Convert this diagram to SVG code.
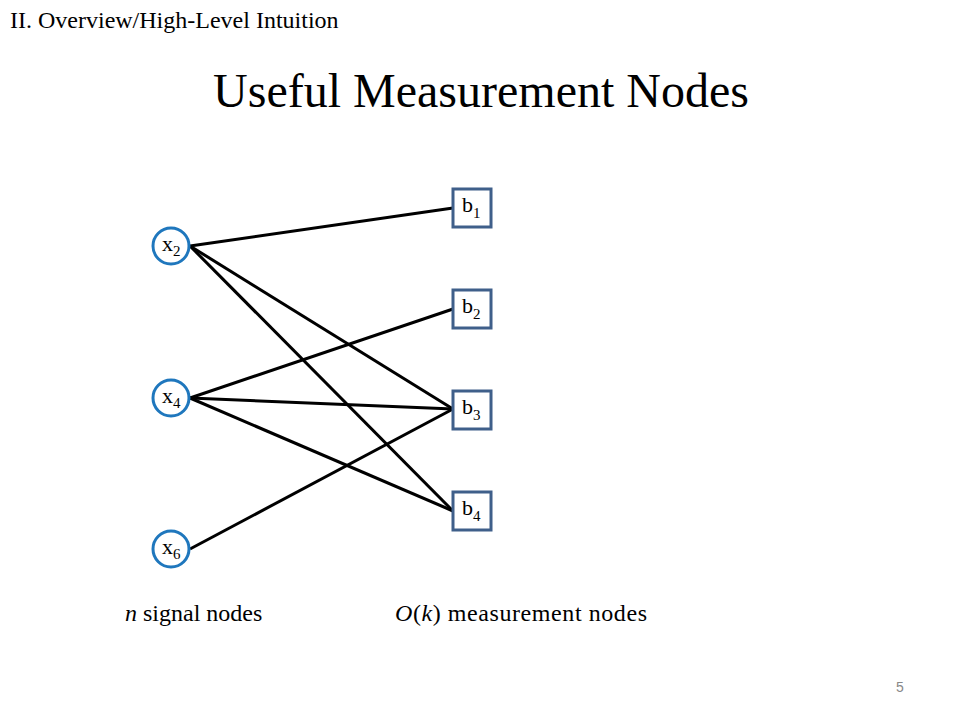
<svg xmlns="http://www.w3.org/2000/svg" width="960" height="720" viewBox="0 0 960 720">
<style>
text{font-family:"Liberation Serif","Times New Roman",serif;fill:#000}
.sig{fill:#fff;stroke:#1f77bd;stroke-width:3}
.meas{fill:#fff;stroke:#3f5f8a;stroke-width:3}
.lbl{font-size:22px}
.sub{font-size:15px}
#edges line{stroke:#000;stroke-width:3}
</style>
<rect width="960" height="720" fill="#fff"/>
<text x="10" y="28" font-size="24">II. Overview/High-Level Intuition</text>
<text x="481" y="107" font-size="48" text-anchor="middle">Useful Measurement Nodes</text>
<g id="edges">
<line x1="190" y1="246" x2="453" y2="208"/>
<line x1="190" y1="246" x2="453" y2="409"/>
<line x1="190" y1="246" x2="453" y2="511"/>
<line x1="190" y1="398" x2="453" y2="309"/>
<line x1="190" y1="398" x2="453" y2="409"/>
<line x1="190" y1="398" x2="453" y2="511"/>
<line x1="190" y1="549" x2="453" y2="409"/>
</g>
<g id="x2"><circle class="sig" cx="171" cy="246" r="18"/><text class="lbl" x="162" y="251">x<tspan class="sub" dy="5">2</tspan></text></g>
<g id="x4"><circle class="sig" cx="171" cy="398" r="18"/><text class="lbl" x="162" y="403">x<tspan class="sub" dy="5">4</tspan></text></g>
<g id="x6"><circle class="sig" cx="171" cy="549" r="18"/><text class="lbl" x="162" y="554">x<tspan class="sub" dy="5">6</tspan></text></g>
<g id="b1"><rect class="meas" x="453" y="189" width="38" height="38"/><text class="lbl" x="462" y="212">b<tspan class="sub" dy="6">1</tspan></text></g>
<g id="b2"><rect class="meas" x="453" y="290" width="38" height="38"/><text class="lbl" x="462" y="313">b<tspan class="sub" dy="6">2</tspan></text></g>
<g id="b3"><rect class="meas" x="453" y="391" width="38" height="38"/><text class="lbl" x="462" y="414">b<tspan class="sub" dy="6">3</tspan></text></g>
<g id="b4"><rect class="meas" x="453" y="492" width="38" height="38"/><text class="lbl" x="462" y="515">b<tspan class="sub" dy="6">4</tspan></text></g>
<text x="125" y="621" font-size="24"><tspan font-style="italic">n</tspan> signal nodes</text>
<text x="395" y="621" font-size="24" textLength="252"><tspan font-style="italic">O</tspan>(<tspan font-style="italic">k</tspan>) measurement nodes</text>
<text x="896" y="692" font-size="14" style="fill:#888;font-family:'Liberation Sans',Arial,sans-serif">5</text>
</svg>
